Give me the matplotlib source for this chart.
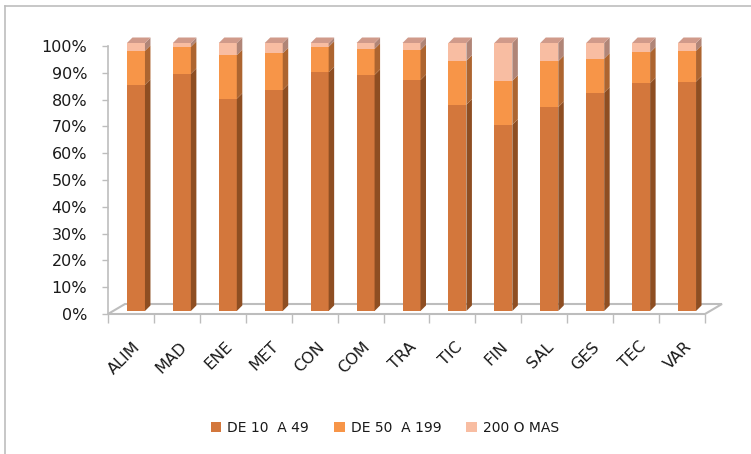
import matplotlib
matplotlib.use("Agg")
import matplotlib.pyplot as plt
import matplotlib.transforms as mtransforms
from matplotlib.patches import Polygon, Patch
from matplotlib.lines import Line2D
from matplotlib.ticker import FuncFormatter
import numpy as np

# Sector codes and size-band shares (%)
sectors = ["ALIM", "MAD", "ENE", "MET", "CON", "COM", "TRA",
           "TIC", "FIN", "SAL", "GES", "TEC", "VAR"]
small = [84.4, 88.5, 79.2, 82.5, 89.1, 88.1, 86.2, 77.0, 69.5, 76.1, 81.5, 85.0, 85.6]
medium = [12.7, 10.1, 16.3, 13.7, 9.5, 9.7, 11.2, 16.4, 16.4, 17.1, 12.7, 11.5, 11.5]
large = [2.9, 1.4, 4.5, 3.8, 1.4, 2.2, 2.6, 6.6, 14.1, 6.8, 5.8, 3.5, 2.9]
series_names = ["DE 10  A 49", "DE 50  A 199", "200 O MAS"]
yticks = [0, 10, 20, 30, 40, 50, 60, 70, 80, 90, 100]

front_cols = ["#D3773C", "#F79548", "#F8BDA2"]
side_cols = ["#8E4E22", "#AD6530", "#B08577"]
top_col = "#D09A8A"
grid_col = "#BDBDBD"
text_col = "#1A1A1A"

W, H = 751, 454
fig = plt.figure(figsize=(W / 100, H / 100), dpi=100)
fig.patch.set_facecolor("white")

# plot box in pixels: left 108, right 705, 0% at 314, 100% at 46
left, right, y0, y100 = 108, 705, 314, 46
ax = fig.add_axes([left / W, (H - y0) / H, (right - left) / W, (y0 - y100) / H])
ax.set_xlim(-0.5, len(sectors) - 0.5)
ax.set_ylim(0, 100)
ax.patch.set_alpha(0)
for s in ["top", "right", "bottom"]:
    ax.spines[s].set_visible(False)
ax.spines["left"].set_color(grid_col)
ax.spines["left"].set_linewidth(1.2)

px_x = (right - left) / len(sectors)   # pixels per category
px_y = (y0 - y100) / 100.0             # pixels per percent

# floor of the 3D box
fdx, fdy = 17 / px_x, 10 / px_y
floor = Polygon([(-0.5, 0), (len(sectors) - 0.5, 0),
                 (len(sectors) - 0.5 + fdx, fdy), (-0.5 + fdx, fdy)],
                closed=True, facecolor="white", edgecolor=grid_col,
                linewidth=1.5, zorder=1, clip_on=False)
ax.add_patch(floor)

# bars sit slightly back inside the box
bar_tr = mtransforms.offset_copy(ax.transData, fig=fig, x=5 * 0.72, y=3 * 0.72, units="points")
bw = 18 / px_x
ddx, ddy = 5.5 / px_x, 5.5 / px_y

x = np.arange(len(sectors))
bottoms = np.zeros(len(sectors))
for k, vals in enumerate([small, medium, large]):
    vals = np.asarray(vals)
    bars = ax.bar(x, vals, bottom=bottoms, width=bw, color=front_cols[k],
                  transform=bar_tr, zorder=3, linewidth=0)
    for b in bars:
        b.set_clip_on(False)
    for i in range(len(sectors)):
        b0, t = bottoms[i], bottoms[i] + vals[i]
        xr = x[i] + bw / 2
        side = Polygon([(xr, b0), (xr + ddx, b0 + ddy), (xr + ddx, t + ddy), (xr, t)],
                       closed=True, facecolor=side_cols[k], edgecolor="none",
                       transform=bar_tr, zorder=3, clip_on=False)
        ax.add_patch(side)
    bottoms = bottoms + vals

# top caps
for i in range(len(sectors)):
    t = bottoms[i]
    xl, xr = x[i] - bw / 2, x[i] + bw / 2
    cap = Polygon([(xl, t), (xr, t), (xr + ddx, t + ddy), (xl + ddx, t + ddy)],
                  closed=True, facecolor=top_col, edgecolor="none",
                  transform=bar_tr, zorder=3, clip_on=False)
    ax.add_patch(cap)

# y axis
ax.set_yticks(yticks)
ax.yaxis.set_major_formatter(FuncFormatter(lambda v, p: f"{int(v)}%"))
ax.tick_params(axis="y", length=4, width=1, color=grid_col, pad=11,
               labelsize=11.5, labelcolor=text_col)

# x axis ticks at category boundaries
ax.set_xticks(np.arange(len(sectors) + 1) - 0.5)
ax.set_xticklabels([])
ax.tick_params(axis="x", length=6.5, width=1, color=grid_col)

label_tr = mtransforms.offset_copy(ax.transData, fig=fig, x=2 * 0.72, y=-25 * 0.72, units="points")
for i, name in enumerate(sectors):
    ax.text(i, 0, name, transform=label_tr, rotation=45, ha="right", va="top",
            rotation_mode="anchor", fontsize=11.5, color=text_col)

# legend
handles = [Patch(facecolor=c, edgecolor="none") for c in front_cols]
fig.legend(handles, series_names, loc="center", bbox_to_anchor=(0.5126, 0.057),
           ncol=3, frameon=False, fontsize=10, handlelength=0.75, handleheight=0.75,
           handletextpad=0.45, columnspacing=1.8, labelcolor=text_col)

# chart frame
fig.add_artist(Line2D([4.5 / W, 4.5 / W], [0, 1 - 5.5 / H], transform=fig.transFigure,
                      color=grid_col, linewidth=1.2))
fig.add_artist(Line2D([4.5 / W, 1], [1 - 5.5 / H, 1 - 5.5 / H], transform=fig.transFigure,
                      color=grid_col, linewidth=1.2))

fig.savefig("out.png", dpi=100, facecolor="white")
